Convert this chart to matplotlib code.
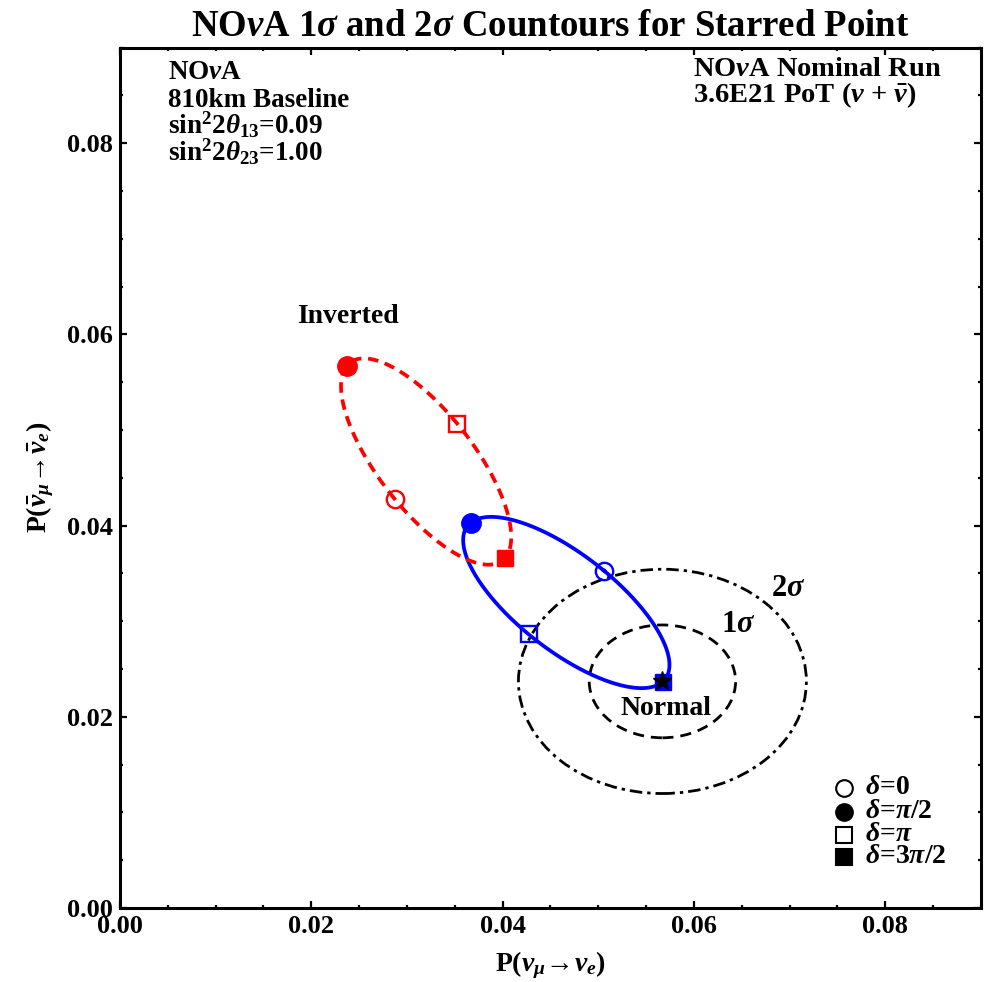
import numpy as np
import matplotlib
matplotlib.use("Agg")
import matplotlib.pyplot as plt
from matplotlib.patches import Ellipse

plt.rcParams["font.family"] = ["Liberation Serif", "DejaVu Serif"]
plt.rcParams["font.weight"] = "bold"
plt.rcParams["axes.titleweight"] = "bold"
plt.rcParams["axes.labelweight"] = "bold"
plt.rcParams["mathtext.fontset"] = "custom"
plt.rcParams["mathtext.rm"] = "Liberation Serif:bold"
plt.rcParams["mathtext.it"] = "Liberation Serif:italic:bold"
plt.rcParams["mathtext.bf"] = "Liberation Serif:bold"

# ---- data ------------------------------------------------------------
# points at delta = 0, pi/2, pi, 3pi/2 : P(nu_mu->nu_e), P(nubar_mu->nubar_e)
normal_p = [0.05059, 0.03665, 0.04272, 0.05673]
normal_pbar = [0.03528, 0.04030, 0.02862, 0.02367]
inverted_p = [0.02874, 0.02372, 0.03526, 0.04028]
inverted_pbar = [0.04274, 0.05671, 0.05065, 0.03663]

star_p, star_pbar = 0.0567, 0.0237
# contour half widths (x, y) around the starred point
sigma1_half = (0.00765, 0.00590)
sigma2_half = (0.01505, 0.01173)

delta_labels = [r"$\delta$=0", r"$\delta$=$\pi$/2", r"$\delta$=$\pi$", r"$\delta$=3$\pi$/2"]
marker_shapes = ["o", "o", "s", "s"]
marker_filled = [False, True, False, True]


def delta_curve(p, pbar, n=400):
    """P(delta) = mean + A cos(delta) + B sin(delta), fixed by the 4 points."""
    d = np.linspace(0, 2 * np.pi, n)
    p, pbar = np.asarray(p), np.asarray(pbar)
    mx, my = (p[0] + p[2]) / 2, (pbar[0] + pbar[2]) / 2
    ax_, ay_ = (p[0] - p[2]) / 2, (pbar[0] - pbar[2]) / 2
    bx_, by_ = (p[1] - p[3]) / 2, (pbar[1] - pbar[3]) / 2
    return mx + ax_ * np.cos(d) + bx_ * np.sin(d), my + ay_ * np.cos(d) + by_ * np.sin(d)


fig = plt.figure(figsize=(9.86, 9.82), dpi=100)
ax = fig.add_axes([0.1217, 0.0754, 0.8732, 0.8762])

# ---- mass hierarchy ellipses -----------------------------------------
for p, pbar, col, ls in [(normal_p, normal_pbar, "#0000ff", "-"),
                         (inverted_p, inverted_pbar, "#ff0000", (0, (2.8, 1.8)))]:
    cx, cy = delta_curve(p, pbar)
    ax.plot(cx, cy, color=col, lw=2.7, ls=ls, zorder=3)
    for i in range(4):
        is_circle = marker_shapes[i] == "o"
        if marker_filled[i]:
            ax.plot(p[i], pbar[i], marker=marker_shapes[i], ms=14 if is_circle else 12,
                    mfc=col, mec=col, ls="none", zorder=4)
        else:
            ax.plot(p[i], pbar[i], marker=marker_shapes[i], ms=12.5 if is_circle else 11.5,
                    mfc="none", mec=col, mew=1.7, ls="none", zorder=4)

# ---- sensitivity contours --------------------------------------------
ax.add_patch(Ellipse((star_p, star_pbar), 2 * sigma1_half[0], 2 * sigma1_half[1],
                     fill=False, ec="black", lw=2.0, ls=(0, (4, 2.5)), zorder=2))
ax.add_patch(Ellipse((star_p, star_pbar), 2 * sigma2_half[0], 2 * sigma2_half[1],
                     fill=False, ec="black", lw=2.0, ls=(0, (4.5, 1.8, 1.2, 1.8)), zorder=2))
ax.plot(star_p, star_pbar, marker="*", ms=14, color="black", ls="none", zorder=5)

# ---- labels on the plot ----------------------------------------------
ax.text(0.0238, 0.0619, "Inverted", fontsize=20, ha="center", va="center")
ax.text(0.0571, 0.0209, "Normal", fontsize=20, ha="center", va="center")
ax.text(0.0646, 0.0297, r"1$\sigma$", fontsize=22, ha="center", va="center")
ax.text(0.0698, 0.0334, r"2$\sigma$", fontsize=22, ha="center", va="center")

left_lines = [r"NO$\nu$A", "810km Baseline",
              r"sin$^{2}$2$\theta_{13}$=0.09", r"sin$^{2}$2$\theta_{23}$=1.00"]
for txt, yy in zip(left_lines, [0.9634, 0.931, 0.8995, 0.8682]):
    ax.text(0.0557, yy, txt, transform=ax.transAxes, fontsize=19.5, va="baseline")
right_lines = [r"NO$\nu$A Nominal Run", r"3.6E21 PoT ($\nu$ + $\bar{\nu}$)"]
for txt, yy in zip(right_lines, [0.9672, 0.9371]):
    ax.text(0.6659, yy, txt, transform=ax.transAxes, fontsize=20.5, va="baseline")

# ---- legend (drawn by hand to match the tight row spacing) -------------
legend_rows = [0.1395, 0.1116, 0.0848, 0.0593]
for m, f, lab, yy in zip(marker_shapes, marker_filled, delta_labels, legend_rows):
    ax.plot(0.8405, yy, marker=m, ms=12 if m == "o" else 11, mec="black",
            mfc="black" if f else "none", mew=1.5, ls="none", transform=ax.transAxes)
    ax.text(0.8655, yy, lab, transform=ax.transAxes, fontsize=20, va="center")

# ---- axes ------------------------------------------------------------
ax.set_xlim(0, 0.09)
ax.set_ylim(0, 0.09)
ticks = [0.0, 0.02, 0.04, 0.06, 0.08]
tick_labels = ["0.00", "0.02", "0.04", "0.06", "0.08"]
ax.set_xticks(ticks)
ax.set_yticks(ticks)
ax.set_xticklabels(tick_labels)
ax.set_yticklabels(tick_labels)
ax.set_xticks(np.arange(0, 0.0901, 0.005), minor=True)
ax.set_yticks(np.arange(0, 0.0901, 0.005), minor=True)
ax.tick_params(which="both", direction="in", top=True, right=True, labelsize=19, width=1.6)
ax.tick_params(which="major", length=5, pad=5)
ax.tick_params(which="minor", length=2.5)
for s in ax.spines.values():
    s.set_linewidth(2.2)

ax.set_xlabel(r"P($\nu_\mu\!\rightarrow\!\nu_e$)", fontsize=20, labelpad=8)
ax.set_ylabel(r"P($\bar{\nu}_\mu\!\rightarrow\!\bar{\nu}_e$)", fontsize=20, labelpad=8)
ax.set_title(r"NO$\nu$A 1$\sigma$ and 2$\sigma$ Countours for Starred Point", fontsize=26.5, pad=8)

fig.savefig("out.png", dpi=100)
